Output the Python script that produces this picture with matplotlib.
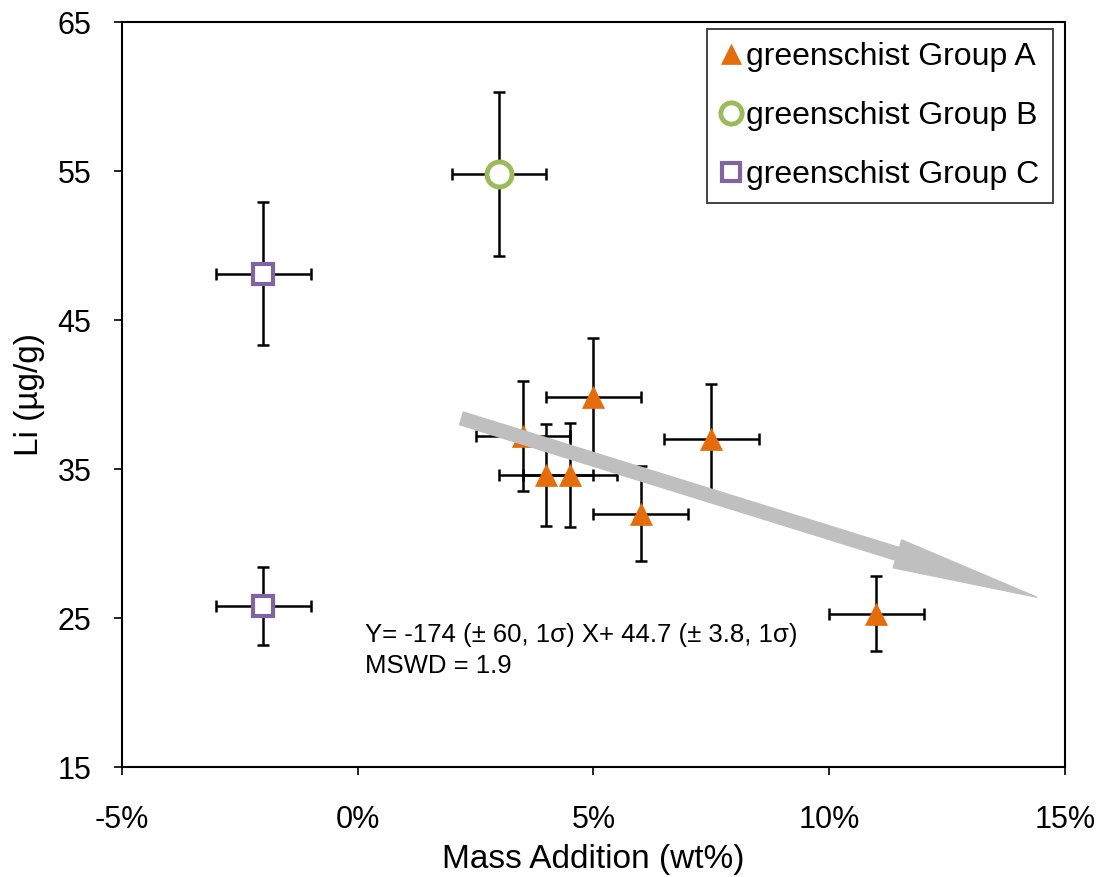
import numpy as np
import matplotlib.pyplot as plt
from matplotlib.ticker import FuncFormatter

plt.rcParams['font.family'] = ['Liberation Sans', 'DejaVu Sans']

# greenschist Group A
xa = [5.0, 3.5, 4.0, 4.5, 6.0, 7.5, 11.0]
ya = [39.8, 37.2, 34.6, 34.6, 32.0, 37.0, 25.3]
xa_err = [1, 1, 1, 1, 1, 1, 1]
ya_err = [4.0, 3.7, 3.4, 3.5, 3.2, 3.7, 2.5]

# greenschist Group B
xb = [3.0]
yb = [54.8]
xb_err = [1]
yb_err = [5.5]

# greenschist Group C
xc = [-2.0, -2.0]
yc = [48.1, 25.8]
xc_err = [1, 1]
yc_err = [4.8, 2.6]

# trend arrow ends
arrow_start = (2.2, 38.4)
arrow_end = (14.4, 26.4)

fig = plt.figure(figsize=(11.05, 8.77), dpi=100)
ax = fig.add_axes([0.1104, 0.1254, 0.8534, 0.8495])

ebk = dict(fmt='none', ecolor='black', elinewidth=1.8, capsize=4.3, capthick=1.8, zorder=2)
ax.errorbar(xa, ya, xerr=xa_err, yerr=ya_err, **ebk)
ax.errorbar(xb, yb, xerr=xb_err, yerr=yb_err, **ebk)
ax.errorbar(xc, yc, xerr=xc_err, yerr=yc_err, **ebk)

ax.plot(xa, ya, linestyle='none', marker='^', markersize=16.5, color='#E46C0A',
        markeredgecolor='#E46C0A', markeredgewidth=0.5, zorder=3, label='greenschist Group A')
ax.plot(xb, yb, linestyle='none', marker='o', markersize=18, markerfacecolor='white',
        markeredgecolor='#9BBB59', markeredgewidth=3.5, zorder=3, label='greenschist Group B')
ax.plot(xc, yc, linestyle='none', marker='s', markersize=14.5, markerfacecolor='white',
        markeredgecolor='#8064A2', markeredgewidth=3, zorder=3, label='greenschist Group C')

ax.annotate('', xy=arrow_end, xytext=arrow_start,
            arrowprops=dict(arrowstyle='simple,head_length=10.5,head_width=2.1,tail_width=0.95',
                            color='#BFBFBF', mutation_scale=10, shrinkA=0, shrinkB=0),
            zorder=4)

ax.text(0.15, 23.4, 'Y= -174 (± 60, 1σ) X+ 44.7 (± 3.8, 1σ)', fontsize=18.5, va='baseline')
ax.text(0.15, 21.3, 'MSWD = 1.9', fontsize=18.5, va='baseline')

ax.set_xlim(-5, 15)
ax.set_ylim(15, 65)
ax.set_xticks([-5, 0, 5, 10, 15])
ax.set_yticks([15, 25, 35, 45, 55, 65])
ax.xaxis.set_major_formatter(FuncFormatter(lambda v, p: '%d%%' % v))
ax.tick_params(axis='both', direction='out', length=6, width=1.2, labelsize=22)
ax.tick_params(axis='x', pad=21)
ax.tick_params(axis='y', pad=16)
for s in ax.spines.values():
    s.set_linewidth(1.5)

ax.set_xlabel('Mass Addition (wt%)', fontsize=24, labelpad=7)
ax.set_ylabel('Li (µg/g)', fontsize=24, labelpad=9)

leg = ax.legend(loc='upper right', bbox_to_anchor=(0.9873, 0.9906), borderaxespad=0,
                fontsize=23, frameon=True, fancybox=False, edgecolor='black',
                handlelength=0.65, handletextpad=0.15, borderpad=0.42,
                labelspacing=0.9, markerscale=0.85)
leg.get_frame().set_linewidth(1.3)

fig.savefig('out.png', dpi=100)
